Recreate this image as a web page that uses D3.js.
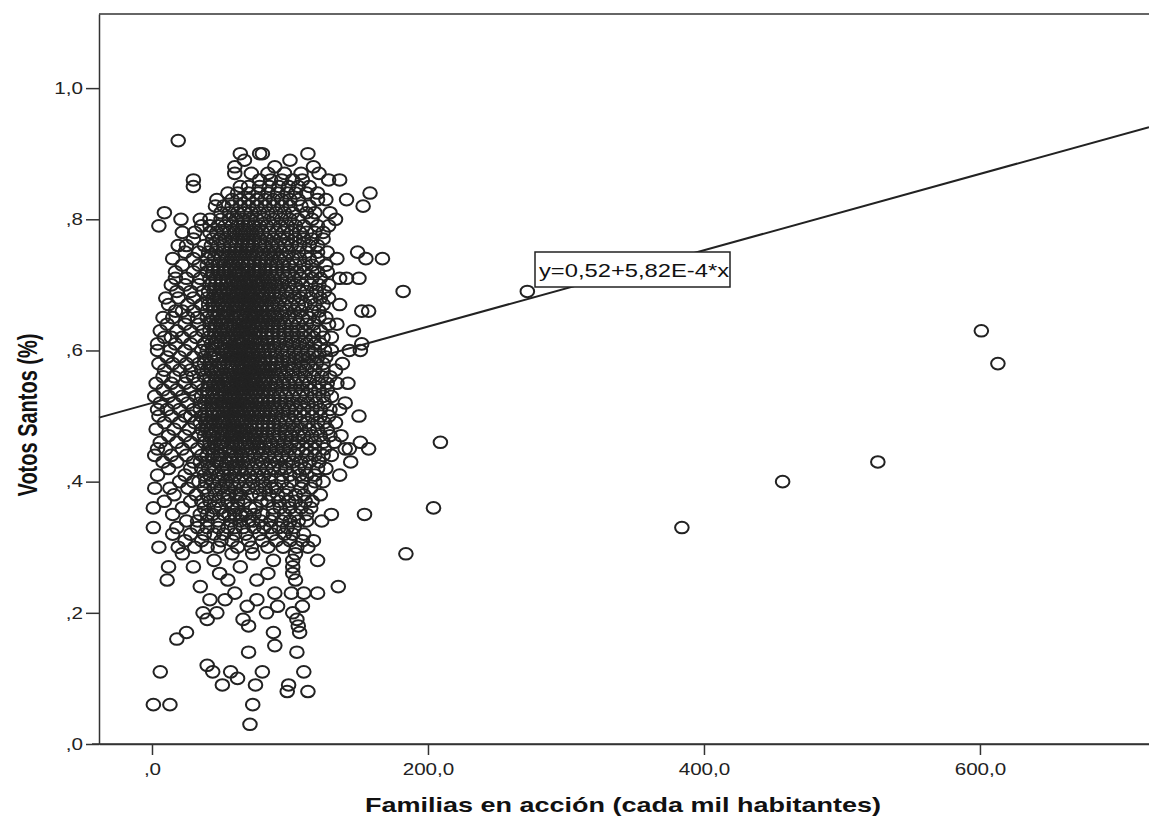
<!DOCTYPE html>
<html>
<head>
<meta charset="utf-8">
<script src="https://cdn.jsdelivr.net/npm/d3@7"></script>
<style>
  body { margin: 0; background: #fff; }
  svg { display: block; }
</style>
</head>
<body>
<svg id="chart" width="1149" height="821"></svg>
<script>
// Votos Santos (%) levels (0.01 steps) with the Familias values found at each level
const filas = [
  [0.03, [71]],
  [0.06, [1, 13, 73]],
  [0.08, [98, 113]],
  [0.09, [51, 75, 99]],
  [0.10, [62]],
  [0.11, [6, 44, 57, 80, 110]],
  [0.12, [40]],
  [0.14, [70, 105]],
  [0.15, [89]],
  [0.16, [18]],
  [0.17, [25, 88, 107]],
  [0.18, [70, 106]],
  [0.19, [40, 66, 105]],
  [0.20, [37, 47, 83, 102]],
  [0.21, [69, 91, 109]],
  [0.22, [42, 53, 76]],
  [0.23, [60, 89, 101, 110, 120]],
  [0.24, [35, 135]],
  [0.25, [11, 55, 76, 104]],
  [0.26, [49, 102, 84]],
  [0.27, [12, 30, 102, 64]],
  [0.28, [120, 102, 45, 88]],
  [0.29, [22, 104, 58, 73]],
  [0.30, [5, 19, 31, 62, 105, 40, 84, 95]],
  [0.31, [24, 117, 50, 70, 90, 36, 100]],
  [0.32, [28, 45, 60, 78, 96, 110, 15]],
  [0.33, [1, 18, 33, 48, 66, 81, 92, 103, 55]],
  [0.34, [106, 112, 123, 40, 57, 73, 86, 25, 64]],
  [0.35, [15, 130, 154, 35, 52, 68, 80, 96, 44, 60]],
  [0.36, [1, 22, 38, 50, 62, 75, 88, 100, 58, 115, 45]],
  [0.37, [9, 116, 28, 42, 55, 67, 79, 92, 104, 48, 62]],
  [0.38, [16, 32, 46, 56, 64, 72, 85, 97, 110, 122, 40, 52]],
  [0.39, [2, 13, 98, 26, 38, 50, 60, 70, 82, 90, 108, 45]],
  [0.40, [109, 20, 34, 44, 54, 63, 73, 80, 94, 118, 30, 58, 49]],
  [0.41, [4, 136, 24, 38, 48, 56, 66, 76, 86, 100, 112, 42, 60]],
  [0.42, [120, 12, 28, 36, 45, 52, 60, 68, 78, 88, 97, 106, 126, 55]],
  [0.43, [8, 144, 18, 30, 40, 47, 54, 62, 70, 80, 91, 102, 114, 50, 58]],
  [0.44, [2, 14, 25, 36, 44, 50, 57, 65, 74, 84, 94, 104, 118, 130, 48]],
  [0.45, [4, 143, 157, 140, 10, 22, 33, 41, 47, 53, 59, 66, 72, 80, 90, 100, 112, 125]],
  [0.46, [151, 6, 18, 28, 38, 45, 52, 58, 64, 70, 78, 86, 96, 106, 118, 132, 50]],
  [0.47, [12, 24, 34, 42, 48, 54, 61, 68, 75, 83, 92, 101, 110, 122, 137, 44, 57]],
  [0.48, [3, 16, 27, 36, 43, 50, 56, 62, 69, 76, 84, 93, 103, 114, 127, 46, 59, 66]],
  [0.49, [9, 20, 31, 39, 46, 53, 59, 65, 72, 80, 88, 97, 108, 120, 133, 49, 62, 42]],
  [0.50, [28, 150, 5, 14, 24, 36, 44, 51, 57, 63, 70, 77, 85, 94, 104, 116, 128, 48, 60]],
  [0.51, [11, 20, 4, 30, 40, 47, 54, 60, 67, 74, 82, 90, 99, 110, 122, 136, 44, 57, 64, 71]],
  [0.52, [6, 16, 26, 35, 43, 50, 56, 62, 69, 76, 84, 93, 102, 113, 125, 140, 47, 59, 66]],
  [0.53, [2, 12, 22, 32, 40, 47, 53, 60, 66, 73, 80, 88, 97, 107, 118, 130, 44, 56, 63]],
  [0.54, [8, 18, 28, 37, 44, 51, 57, 64, 70, 77, 85, 94, 104, 115, 127, 48, 60, 67, 73]],
  [0.55, [14, 142, 3, 24, 33, 41, 48, 55, 61, 68, 75, 82, 90, 99, 109, 121, 134, 52, 64, 71]],
  [0.56, [8, 25, 16, 30, 38, 46, 53, 59, 66, 72, 79, 87, 96, 106, 117, 129, 50, 62, 69, 76]],
  [0.57, [9, 133, 20, 28, 36, 43, 50, 57, 63, 70, 77, 85, 93, 102, 112, 124, 47, 60, 67, 74]],
  [0.58, [5, 15, 25, 34, 42, 49, 55, 62, 68, 75, 82, 90, 99, 108, 119, 138, 52, 65, 72, 79]],
  [0.59, [20, 30, 11, 38, 45, 52, 58, 65, 71, 78, 86, 95, 104, 114, 126, 48, 61, 68, 75]],
  [0.60, [13, 151, 130, 4, 24, 36, 44, 51, 57, 64, 70, 77, 85, 94, 103, 113, 143, 60, 67]],
  [0.61, [4, 152, 17, 28, 38, 46, 53, 60, 66, 73, 80, 88, 97, 107, 118, 50, 63, 70]],
  [0.62, [14, 9, 22, 32, 41, 48, 55, 62, 68, 75, 83, 92, 101, 111, 124, 52, 65, 72]],
  [0.63, [146, 6, 18, 28, 37, 45, 52, 59, 66, 72, 79, 87, 96, 106, 117, 49, 62, 69]],
  [0.64, [11, 24, 34, 42, 50, 57, 63, 70, 77, 84, 92, 101, 112, 128, 54, 66, 73]],
  [0.65, [15, 33, 8, 26, 40, 47, 54, 61, 68, 75, 82, 90, 99, 109, 121, 58, 71]],
  [0.66, [22, 40, 152, 157, 17, 30, 48, 55, 62, 69, 76, 84, 93, 103, 116, 59, 72]],
  [0.67, [136, 12, 26, 36, 44, 51, 58, 65, 72, 79, 87, 96, 106, 118, 55, 68, 62]],
  [0.68, [40, 19, 30, 47, 54, 61, 67, 74, 81, 89, 98, 108, 122, 57, 64, 71, 10]],
  [0.69, [18, 28, 182, 37, 45, 52, 59, 66, 73, 80, 88, 97, 107, 119, 62, 69]],
  [0.70, [14, 24, 34, 42, 50, 57, 64, 71, 78, 86, 94, 104, 115, 128, 60, 67]],
  [0.71, [25, 35, 150, 141, 136, 17, 46, 54, 61, 68, 76, 84, 93, 103, 116]],
  [0.72, [17, 30, 40, 48, 56, 63, 70, 78, 86, 95, 105, 120, 60, 74, 52]],
  [0.73, [22, 34, 44, 52, 59, 66, 74, 82, 90, 99, 110, 126, 63, 70]],
  [0.74, [15, 30, 155, 167, 134, 40, 50, 58, 66, 74, 83, 92, 102, 114]],
  [0.75, [41, 149, 24, 34, 52, 60, 68, 76, 85, 94, 106, 120, 64]],
  [0.76, [19, 25, 38, 48, 57, 65, 73, 82, 91, 101, 114, 70]],
  [0.77, [30, 44, 53, 62, 70, 78, 88, 98, 110, 124, 66]],
  [0.78, [31, 22, 42, 52, 60, 68, 76, 85, 95, 107, 118]],
  [0.79, [5, 36, 48, 58, 66, 74, 83, 93, 104, 128]],
  [0.80, [21, 35, 42, 133, 56, 66, 76, 88, 100]],
  [0.81, [9, 129, 50, 62, 72, 84, 96, 112]],
  [0.82, [153, 46, 58, 70, 82, 94, 108]],
  [0.83, [47, 141, 120, 64, 76, 88, 100]],
  [0.84, [55, 158, 70, 84, 98, 112]],
  [0.85, [30, 64, 78, 92, 106]],
  [0.86, [30, 136, 128, 109, 86]],
  [0.87, [121, 72, 96, 60]],
  [0.88, [60, 89, 117]],
  [0.89, [67, 100]],
  [0.90, [64, 78, 80, 113]],
  [0.92, [19]]
];

// the dark core of the cloud, where circles pile on top of each other
const filasNucleo = [
  [0.30, [48, 72, 113]],
  [0.31, [58, 80, 109]],
  [0.32, [38, 52, 68, 87, 102]],
  [0.33, [40, 60, 74, 86, 98]],
  [0.34, [33, 48, 70, 79, 94, 100]],
  [0.35, [40, 56, 64, 74, 88, 104, 112]],
  [0.36, [71, 93, 108]],
  [0.37, [36, 84, 99, 111]],
  [0.38, [61, 78, 91, 104]],
  [0.39, [55, 66, 76, 87, 115]],
  [0.40, [39, 68, 86, 101, 124]],
  [0.41, [52, 71, 81, 94, 107, 118]],
  [0.42, [41, 64, 73, 83, 93, 111]],
  [0.43, [35, 66, 76, 86, 97, 108, 121]],
  [0.44, [40, 61, 69, 79, 89, 99, 112, 124]],
  [0.45, [44, 56, 63, 69, 77, 85, 95, 106, 118]],
  [0.46, [42, 55, 61, 67, 74, 82, 91, 101, 112, 124]],
  [0.47, [38, 51, 59, 65, 72, 79, 88, 97, 106, 116, 129]],
  [0.48, [40, 53, 64, 72, 80, 88, 98, 108, 120]],
  [0.49, [35, 51, 56, 68, 76, 84, 92, 102, 113, 125]],
  [0.50, [40, 54, 66, 74, 81, 89, 99, 110, 122]],
  [0.51, [35, 51, 62, 78, 86, 95, 104, 116, 129]],
  [0.52, [38, 53, 64, 72, 80, 88, 97, 108, 119]],
  [0.53, [36, 50, 58, 70, 77, 84, 92, 102, 112, 124]],
  [0.54, [40, 55, 62, 75, 81, 89, 99, 109, 121]],
  [0.55, [45, 58, 66, 73, 79, 86, 95, 104, 114, 127]],
  [0.56, [42, 56, 64, 74, 83, 91, 101, 111, 123]],
  [0.57, [40, 54, 65, 72, 81, 89, 98, 107, 118]],
  [0.58, [38, 58, 70, 78, 86, 94, 103, 113, 124]],
  [0.59, [42, 56, 63, 73, 82, 90, 99, 109, 120]],
  [0.60, [40, 54, 62, 73, 81, 89, 98, 108, 118, 125]],
  [0.61, [43, 56, 64, 76, 84, 92, 102, 112, 122]],
  [0.62, [45, 58, 70, 78, 87, 96, 106, 117, 130]],
  [0.63, [42, 55, 64, 75, 83, 91, 101, 111, 122]],
  [0.64, [46, 60, 68, 80, 88, 96, 106, 117, 134]],
  [0.65, [44, 51, 64, 73, 79, 86, 94, 104, 114, 126]],
  [0.66, [45, 52, 66, 74, 80, 88, 97, 108, 121]],
  [0.67, [41, 48, 61, 70, 76, 83, 91, 101, 111, 124]],
  [0.68, [44, 50, 59, 69, 78, 85, 93, 103, 115, 128]],
  [0.69, [41, 49, 56, 64, 71, 77, 84, 92, 101, 112, 125]],
  [0.70, [46, 54, 62, 69, 75, 82, 90, 99, 109, 121]],
  [0.71, [42, 50, 58, 65, 72, 80, 88, 97, 108, 122]],
  [0.72, [44, 53, 66, 76, 82, 90, 99, 110, 116, 127]],
  [0.73, [40, 48, 56, 69, 78, 86, 95, 104, 116]],
  [0.74, [45, 54, 62, 70, 79, 87, 96, 107, 120]],
  [0.75, [47, 56, 72, 80, 89, 99, 112, 127]],
  [0.76, [43, 52, 61, 69, 78, 87, 96, 107, 120]],
  [0.77, [49, 58, 74, 83, 93, 104, 116]],
  [0.78, [47, 56, 64, 72, 80, 90, 101, 112, 124]],
  [0.79, [42, 53, 62, 70, 78, 88, 98, 110, 120]],
  [0.80, [50, 61, 71, 81, 94, 106, 116]],
  [0.81, [56, 67, 78, 90, 102, 118]],
  [0.82, [52, 64, 76, 88, 100, 114]],
  [0.83, [58, 70, 82, 94, 106, 126]],
  [0.84, [62, 77, 91, 104, 120]],
  [0.85, [70, 85, 99, 114]],
  [0.86, [78, 94, 102]],
  [0.87, [84, 108]]
];

// municipalities far from the main cloud: [familias, votos]
const aislados = [
  [209, 0.46], [204, 0.36], [184, 0.29], [272, 0.69], [384, 0.33],
  [457, 0.40], [526, 0.43], [601, 0.63], [613, 0.58]
];

const xTicks = [0, 200, 400, 600];
const yTicks = [0, 0.2, 0.4, 0.6, 0.8, 1.0];
const intercepto = 0.52;
const pendiente = 5.82e-4;
const etiquetaAjuste = "y=0,52+5,82E-4*x";

const puntos = [];
filas.concat(filasNucleo).forEach(([v, xs]) => xs.forEach(f => puntos.push([f, v])));
aislados.forEach(d => puntos.push(d));

const svg = d3.select("#chart");
const stretch = 1.25;   // the original picture is a bit wider than tall

const x = d3.scaleLinear().domain([-38.4, 722.5]).range([99, 1149]);
const y = d3.scaleLinear().domain([0, 1.113]).range([744, 14]);

const comma = d => {
    let s = d3.format(".1f")(d).replace(".", ",");
    if (s.startsWith("0,")) s = s.slice(1);
    return s;
};

// frame
svg.append("line").attr("x1", 99).attr("x2", 1149).attr("y1", 14).attr("y2", 14)
    .attr("stroke", "#333").attr("stroke-width", 1.5);
svg.append("line").attr("x1", 92).attr("x2", 1149).attr("y1", 744).attr("y2", 744)
    .attr("stroke", "#333").attr("stroke-width", 1.5);

// points
svg.append("g").selectAll("ellipse")
    .data(puntos)
    .enter().append("ellipse")
    .attr("cx", d => x(d[0]))
    .attr("cy", d => y(d[1]))
    .attr("rx", 6.8)
    .attr("ry", 5.8)
    .attr("fill", "none")
    .attr("stroke", "#222")
    .attr("stroke-width", 2);

// fit line
const x0 = x.domain()[0], x1 = x.domain()[1];
svg.append("line")
    .attr("x1", x(x0)).attr("y1", y(intercepto + pendiente * x0))
    .attr("x2", x(x1)).attr("y2", y(intercepto + pendiente * x1))
    .attr("stroke", "#222").attr("stroke-width", 2);

// axes
const yAxis = svg.append("g").attr("transform", "translate(99,0)")
    .call(d3.axisLeft(y).tickValues(yTicks).tickFormat(comma).tickSize(13).tickSizeOuter(0).tickPadding(3));
const xAxis = svg.append("g").attr("transform", "translate(0,744)")
    .call(d3.axisBottom(x).tickValues(xTicks).tickFormat(comma).tickSize(11).tickSizeOuter(0).tickPadding(8));

[yAxis, xAxis].forEach(a => {
    a.select(".domain").attr("stroke", "#333").attr("stroke-width", 1.5);
    a.selectAll(".tick line").attr("stroke", "#333").attr("stroke-width", 1.5);
    a.selectAll(".tick text")
        .attr("font-family", "'Liberation Sans', Arial, sans-serif")
        .attr("font-size", 16.5)
        .attr("fill", "#222");
});
yAxis.selectAll(".tick text").attr("x", -16 / stretch).attr("transform", `scale(${stretch},1)`);
xAxis.selectAll(".tick text").attr("transform", `scale(${stretch},1)`);

// equation label
const lab = svg.append("g").attr("transform", "translate(535,252)");
lab.append("rect").attr("width", 195).attr("height", 35)
    .attr("fill", "#fff").attr("stroke", "#222").attr("stroke-width", 1.5);
lab.append("text")
    .attr("transform", `translate(4,25) scale(${stretch},1)`)
    .attr("font-family", "'Liberation Sans', Arial, sans-serif")
    .attr("font-size", 19)
    .attr("fill", "#111")
    .text(etiquetaAjuste);

// axis titles
svg.append("text")
    .attr("transform", `translate(623,812) scale(1.35,1)`)
    .attr("text-anchor", "middle")
    .attr("font-family", "'Liberation Sans', Arial, sans-serif")
    .attr("font-weight", "bold")
    .attr("font-size", 20)
    .attr("fill", "#111")
    .text("Familias en acción (cada mil habitantes)");

svg.append("text")
    .attr("transform", `translate(37,415) scale(1.35,1) rotate(-90)`)
    .attr("text-anchor", "middle")
    .attr("font-family", "'Liberation Sans', Arial, sans-serif")
    .attr("font-weight", "bold")
    .attr("font-size", 20)
    .attr("fill", "#111")
    .text("Votos Santos (%)");
</script>
</body>
</html>
